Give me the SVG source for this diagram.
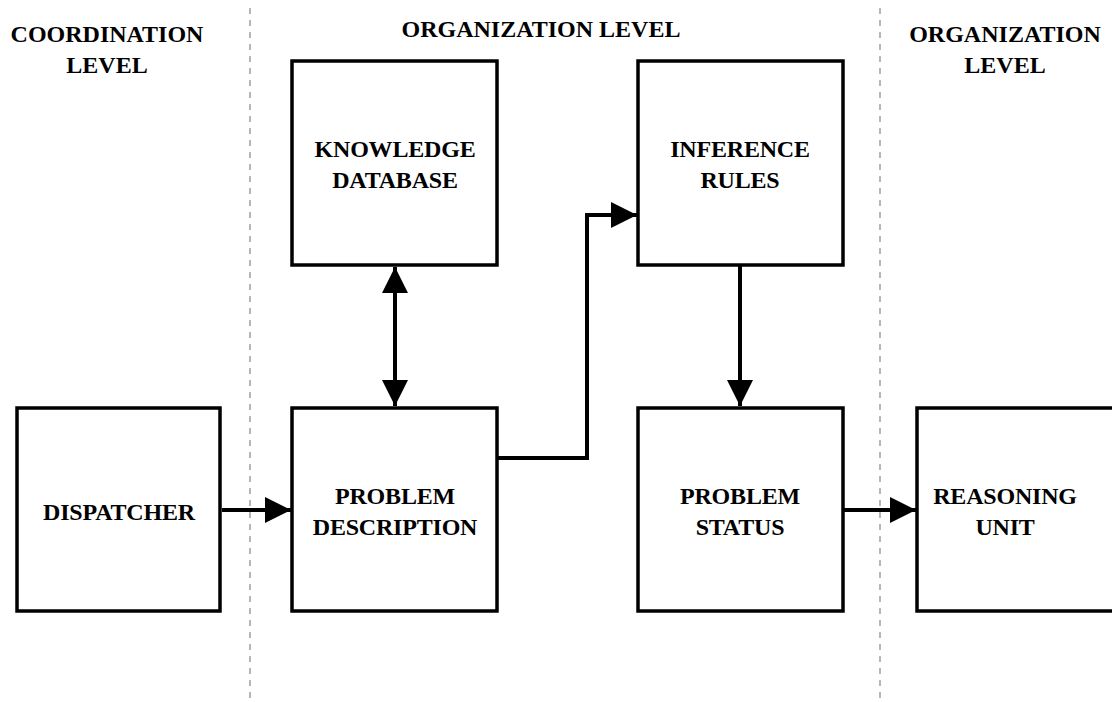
<svg xmlns="http://www.w3.org/2000/svg" width="1112" height="702" viewBox="0 0 1112 702">
<defs>
<marker id="ah" viewBox="0 0 10 10" refX="10" refY="5" markerWidth="7" markerHeight="6.5" orient="auto" markerUnits="strokeWidth">
<path d="M0,0 L10,5 L0,10 z" fill="#000"/>
</marker>
<marker id="ahs" viewBox="0 0 10 10" refX="0" refY="5" markerWidth="7" markerHeight="6.5" orient="auto" markerUnits="strokeWidth">
<path d="M10,0 L0,5 L10,10 z" fill="#000"/>
</marker>
</defs>
<style>
.box{fill:#fff;stroke:#000;stroke-width:3.5}
.t{font-family:"Liberation Serif","Times New Roman",serif;font-weight:bold;font-size:24px;letter-spacing:-0.2px;text-anchor:middle;fill:#000}
.h{font-family:"Liberation Serif","Times New Roman",serif;font-weight:bold;font-size:24px;text-anchor:middle;fill:#000}
.sep{stroke:#888;stroke-width:1.2;stroke-dasharray:6,6;fill:none}
.c{stroke:#000;stroke-width:4;fill:none}
</style>
<rect width="1112" height="702" fill="#fff"/>
<g id="separators">
<line class="sep" x1="250" y1="8" x2="250" y2="702"/>
<line class="sep" x1="880" y1="8" x2="880" y2="702"/>
</g>
<g id="headers">
<text class="h" x="107" y="42">COORDINATION</text>
<text class="h" x="107" y="73">LEVEL</text>
<text class="h" x="541" y="37">ORGANIZATION LEVEL</text>
<text class="h" x="1005" y="42">ORGANIZATION</text>
<text class="h" x="1005" y="73">LEVEL</text>
</g>
<g id="dispatcher">
<rect class="box" x="17" y="408" width="203" height="203"/>
<text class="t" x="119" y="520">DISPATCHER</text>
</g>
<g id="knowledge">
<rect class="box" x="292" y="61" width="205" height="204"/>
<text class="t" x="395" y="157">KNOWLEDGE</text>
<text class="t" x="395" y="188">DATABASE</text>
</g>
<g id="problem-description">
<rect class="box" x="292" y="408" width="205" height="203"/>
<text class="t" x="395" y="504">PROBLEM</text>
<text class="t" x="395" y="535">DESCRIPTION</text>
</g>
<g id="inference">
<rect class="box" x="638" y="61" width="205" height="204"/>
<text class="t" x="740" y="157">INFERENCE</text>
<text class="t" x="740" y="188">RULES</text>
</g>
<g id="problem-status">
<rect class="box" x="638" y="408" width="205" height="203"/>
<text class="t" x="740" y="504">PROBLEM</text>
<text class="t" x="740" y="535">STATUS</text>
</g>
<g id="reasoning">
<rect class="box" x="917" y="408" width="205" height="203"/>
<text class="t" x="1005" y="504">REASONING</text>
<text class="t" x="1005" y="535">UNIT</text>
</g>
<g id="connectors">
<line class="c" x1="395" y1="267" x2="395" y2="406" marker-start="url(#ahs)" marker-end="url(#ah)"/>
<line class="c" x1="222" y1="510" x2="291" y2="510" marker-end="url(#ah)"/>
<polyline class="c" points="498,458 587,458 587,215 637,215" marker-end="url(#ah)"/>
<line class="c" x1="740" y1="266" x2="740" y2="406" marker-end="url(#ah)"/>
<line class="c" x1="844" y1="510" x2="916" y2="510" marker-end="url(#ah)"/>
</g>
</svg>
